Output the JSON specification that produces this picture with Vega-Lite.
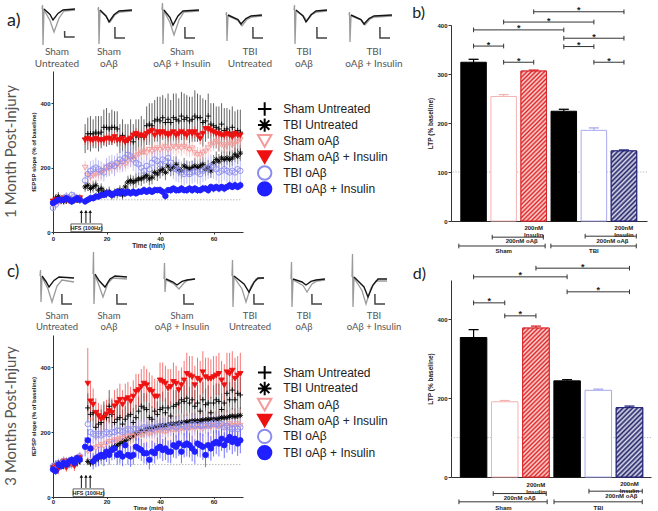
{
"$schema":"https://vega.github.io/schema/vega-lite/v6.json",
"background":"white",
"padding":{"left":3,"top":0,"right":0,"bottom":0},
"config":{"view":{"stroke":null},"axis":{"grid":false,"labelOverlap":false,"labelFlush":false}},
"datasets":{
"ta":[
{"g":"SU","t":0,"v":95,"e":8},{"g":"SU","t":1,"v":100,"e":10},{"g":"SU","t":2,"v":98,"e":9},{"g":"SU","t":3,"v":102,"e":8},{"g":"SU","t":4,"v":100,"e":10},{"g":"SU","t":5,"v":97,"e":9},{"g":"SU","t":6,"v":103,"e":8},{"g":"SU","t":7,"v":99,"e":10},{"g":"SU","t":8,"v":101,"e":9},{"g":"SU","t":9,"v":100,"e":8},{"g":"SU","t":10,"v":98,"e":10},
{"g":"SU","t":12,"v":290,"e":45},{"g":"SU","t":13,"v":305,"e":50},{"g":"SU","t":14,"v":305,"e":55},{"g":"SU","t":15,"v":305,"e":45},{"g":"SU","t":16,"v":310,"e":50},{"g":"SU","t":17,"v":305,"e":55},{"g":"SU","t":18,"v":310,"e":50},{"g":"SU","t":19,"v":325,"e":55},{"g":"SU","t":20,"v":325,"e":60},{"g":"SU","t":21,"v":320,"e":50},{"g":"SU","t":22,"v":325,"e":55},{"g":"SU","t":23,"v":325,"e":50},{"g":"SU","t":24,"v":320,"e":55},{"g":"SU","t":25,"v":290,"e":45},{"g":"SU","t":26,"v":300,"e":50},{"g":"SU","t":27,"v":280,"e":55},{"g":"SU","t":28,"v":285,"e":50},{"g":"SU","t":29,"v":290,"e":60},{"g":"SU","t":30,"v":280,"e":55},{"g":"SU","t":31,"v":300,"e":50},{"g":"SU","t":32,"v":295,"e":55},{"g":"SU","t":33,"v":300,"e":60},{"g":"SU","t":34,"v":295,"e":55},{"g":"SU","t":35,"v":330,"e":60},{"g":"SU","t":36,"v":335,"e":65},{"g":"SU","t":37,"v":330,"e":70},{"g":"SU","t":38,"v":345,"e":65},{"g":"SU","t":39,"v":350,"e":70},{"g":"SU","t":40,"v":345,"e":75},{"g":"SU","t":41,"v":355,"e":70},{"g":"SU","t":42,"v":340,"e":75},{"g":"SU","t":43,"v":350,"e":80},{"g":"SU","t":44,"v":340,"e":70},{"g":"SU","t":45,"v":355,"e":75},{"g":"SU","t":46,"v":350,"e":80},{"g":"SU","t":47,"v":345,"e":70},{"g":"SU","t":48,"v":360,"e":75},{"g":"SU","t":49,"v":350,"e":80},{"g":"SU","t":50,"v":355,"e":70},{"g":"SU","t":51,"v":345,"e":75},{"g":"SU","t":52,"v":350,"e":70},{"g":"SU","t":53,"v":360,"e":80},{"g":"SU","t":54,"v":355,"e":75},{"g":"SU","t":55,"v":355,"e":70},{"g":"SU","t":56,"v":340,"e":75},{"g":"SU","t":57,"v":345,"e":65},{"g":"SU","t":58,"v":360,"e":70},{"g":"SU","t":59,"v":335,"e":65},{"g":"SU","t":60,"v":330,"e":70},{"g":"SU","t":61,"v":325,"e":65},{"g":"SU","t":62,"v":320,"e":70},{"g":"SU","t":63,"v":335,"e":65},{"g":"SU","t":64,"v":315,"e":70},{"g":"SU","t":65,"v":320,"e":65},{"g":"SU","t":66,"v":310,"e":70},{"g":"SU","t":67,"v":325,"e":65},{"g":"SU","t":68,"v":305,"e":70},{"g":"SU","t":69,"v":315,"e":65},{"g":"SU","t":70,"v":310,"e":70},
{"g":"TU","t":0,"v":90,"e":12},{"g":"TU","t":1,"v":105,"e":12},{"g":"TU","t":2,"v":110,"e":14},{"g":"TU","t":3,"v":100,"e":12},{"g":"TU","t":4,"v":95,"e":10},{"g":"TU","t":5,"v":100,"e":12},{"g":"TU","t":6,"v":105,"e":12},{"g":"TU","t":7,"v":95,"e":10},{"g":"TU","t":8,"v":100,"e":12},{"g":"TU","t":9,"v":100,"e":10},{"g":"TU","t":10,"v":105,"e":12},
{"g":"TU","t":12,"v":140,"e":15},{"g":"TU","t":13,"v":145,"e":18},{"g":"TU","t":14,"v":135,"e":15},{"g":"TU","t":15,"v":140,"e":18},{"g":"TU","t":16,"v":145,"e":16},{"g":"TU","t":17,"v":130,"e":15},{"g":"TU","t":18,"v":135,"e":16},{"g":"TU","t":19,"v":125,"e":14},{"g":"TU","t":20,"v":120,"e":15},{"g":"TU","t":21,"v":125,"e":16},{"g":"TU","t":22,"v":115,"e":14},{"g":"TU","t":23,"v":120,"e":15},{"g":"TU","t":24,"v":120,"e":16},{"g":"TU","t":25,"v":130,"e":15},{"g":"TU","t":26,"v":115,"e":14},{"g":"TU","t":27,"v":140,"e":18},{"g":"TU","t":28,"v":155,"e":20},{"g":"TU","t":29,"v":160,"e":18},{"g":"TU","t":30,"v":155,"e":20},{"g":"TU","t":31,"v":160,"e":22},{"g":"TU","t":32,"v":165,"e":20},{"g":"TU","t":33,"v":165,"e":22},{"g":"TU","t":34,"v":170,"e":20},{"g":"TU","t":35,"v":175,"e":22},{"g":"TU","t":36,"v":165,"e":20},{"g":"TU","t":37,"v":170,"e":22},{"g":"TU","t":38,"v":185,"e":24},{"g":"TU","t":39,"v":180,"e":22},{"g":"TU","t":40,"v":190,"e":24},{"g":"TU","t":41,"v":195,"e":22},{"g":"TU","t":42,"v":185,"e":24},{"g":"TU","t":43,"v":205,"e":25},{"g":"TU","t":44,"v":195,"e":22},{"g":"TU","t":45,"v":200,"e":24},{"g":"TU","t":46,"v":210,"e":25},{"g":"TU","t":47,"v":195,"e":22},{"g":"TU","t":48,"v":190,"e":24},{"g":"TU","t":49,"v":205,"e":25},{"g":"TU","t":50,"v":200,"e":22},{"g":"TU","t":51,"v":195,"e":24},{"g":"TU","t":52,"v":200,"e":22},{"g":"TU","t":53,"v":205,"e":25},{"g":"TU","t":54,"v":200,"e":22},{"g":"TU","t":55,"v":205,"e":24},{"g":"TU","t":56,"v":210,"e":25},{"g":"TU","t":57,"v":195,"e":22},{"g":"TU","t":58,"v":200,"e":24},{"g":"TU","t":59,"v":190,"e":22},{"g":"TU","t":60,"v":215,"e":24},{"g":"TU","t":61,"v":225,"e":25},{"g":"TU","t":62,"v":220,"e":22},{"g":"TU","t":63,"v":230,"e":24},{"g":"TU","t":64,"v":225,"e":25},{"g":"TU","t":65,"v":230,"e":22},{"g":"TU","t":66,"v":225,"e":24},{"g":"TU","t":67,"v":230,"e":25},{"g":"TU","t":68,"v":240,"e":22},{"g":"TU","t":69,"v":235,"e":24},{"g":"TU","t":70,"v":245,"e":25},
{"g":"SA","t":0,"v":85,"e":10},{"g":"SA","t":1,"v":90,"e":12},{"g":"SA","t":2,"v":95,"e":10},{"g":"SA","t":3,"v":100,"e":12},{"g":"SA","t":4,"v":105,"e":10},{"g":"SA","t":5,"v":100,"e":12},{"g":"SA","t":6,"v":95,"e":10},{"g":"SA","t":7,"v":100,"e":12},{"g":"SA","t":8,"v":100,"e":10},{"g":"SA","t":9,"v":105,"e":12},{"g":"SA","t":10,"v":100,"e":10},
{"g":"SA","t":12,"v":200,"e":20},{"g":"SA","t":13,"v":175,"e":18},{"g":"SA","t":14,"v":170,"e":20},{"g":"SA","t":15,"v":175,"e":18},{"g":"SA","t":16,"v":180,"e":20},{"g":"SA","t":17,"v":180,"e":22},{"g":"SA","t":18,"v":185,"e":20},{"g":"SA","t":19,"v":190,"e":22},{"g":"SA","t":20,"v":200,"e":20},{"g":"SA","t":21,"v":195,"e":22},{"g":"SA","t":22,"v":205,"e":20},{"g":"SA","t":23,"v":200,"e":22},{"g":"SA","t":24,"v":210,"e":20},{"g":"SA","t":25,"v":205,"e":22},{"g":"SA","t":26,"v":215,"e":24},{"g":"SA","t":27,"v":210,"e":22},{"g":"SA","t":28,"v":220,"e":24},{"g":"SA","t":29,"v":225,"e":22},{"g":"SA","t":30,"v":230,"e":24},{"g":"SA","t":31,"v":235,"e":22},{"g":"SA","t":32,"v":240,"e":24},{"g":"SA","t":33,"v":245,"e":22},{"g":"SA","t":34,"v":250,"e":24},{"g":"SA","t":35,"v":245,"e":22},{"g":"SA","t":36,"v":255,"e":24},{"g":"SA","t":37,"v":250,"e":22},{"g":"SA","t":38,"v":255,"e":24},{"g":"SA","t":39,"v":260,"e":22},{"g":"SA","t":40,"v":255,"e":24},{"g":"SA","t":41,"v":260,"e":22},{"g":"SA","t":42,"v":265,"e":24},{"g":"SA","t":43,"v":255,"e":22},{"g":"SA","t":44,"v":260,"e":24},{"g":"SA","t":45,"v":265,"e":22},{"g":"SA","t":46,"v":260,"e":24},{"g":"SA","t":47,"v":265,"e":22},{"g":"SA","t":48,"v":260,"e":24},{"g":"SA","t":49,"v":265,"e":22},{"g":"SA","t":50,"v":260,"e":24},{"g":"SA","t":51,"v":255,"e":22},{"g":"SA","t":52,"v":260,"e":24},{"g":"SA","t":53,"v":245,"e":22},{"g":"SA","t":54,"v":240,"e":24},{"g":"SA","t":55,"v":240,"e":22},{"g":"SA","t":56,"v":245,"e":24},{"g":"SA","t":57,"v":250,"e":22},{"g":"SA","t":58,"v":260,"e":24},{"g":"SA","t":59,"v":270,"e":22},{"g":"SA","t":60,"v":275,"e":24},{"g":"SA","t":61,"v":280,"e":22},{"g":"SA","t":62,"v":275,"e":24},{"g":"SA","t":63,"v":270,"e":22},{"g":"SA","t":64,"v":265,"e":24},{"g":"SA","t":65,"v":270,"e":22},{"g":"SA","t":66,"v":275,"e":24},{"g":"SA","t":67,"v":270,"e":22},{"g":"SA","t":68,"v":275,"e":24},{"g":"SA","t":69,"v":280,"e":22},{"g":"SA","t":70,"v":285,"e":24},
{"g":"SI","t":0,"v":95,"e":8},{"g":"SI","t":1,"v":100,"e":10},{"g":"SI","t":2,"v":100,"e":8},{"g":"SI","t":3,"v":95,"e":10},{"g":"SI","t":4,"v":105,"e":8},{"g":"SI","t":5,"v":100,"e":10},{"g":"SI","t":6,"v":100,"e":8},{"g":"SI","t":7,"v":95,"e":10},{"g":"SI","t":8,"v":100,"e":8},{"g":"SI","t":9,"v":100,"e":10},{"g":"SI","t":10,"v":105,"e":8},
{"g":"SI","t":12,"v":285,"e":15},{"g":"SI","t":13,"v":290,"e":18},{"g":"SI","t":14,"v":285,"e":15},{"g":"SI","t":15,"v":285,"e":18},{"g":"SI","t":16,"v":290,"e":15},{"g":"SI","t":17,"v":285,"e":18},{"g":"SI","t":18,"v":285,"e":15},{"g":"SI","t":19,"v":285,"e":18},{"g":"SI","t":20,"v":290,"e":15},{"g":"SI","t":21,"v":290,"e":18},{"g":"SI","t":22,"v":285,"e":15},{"g":"SI","t":23,"v":295,"e":18},{"g":"SI","t":24,"v":285,"e":15},{"g":"SI","t":25,"v":285,"e":18},{"g":"SI","t":26,"v":290,"e":15},{"g":"SI","t":27,"v":280,"e":18},{"g":"SI","t":28,"v":285,"e":15},{"g":"SI","t":29,"v":290,"e":18},{"g":"SI","t":30,"v":300,"e":15},{"g":"SI","t":31,"v":305,"e":18},{"g":"SI","t":32,"v":300,"e":15},{"g":"SI","t":33,"v":300,"e":18},{"g":"SI","t":34,"v":295,"e":15},{"g":"SI","t":35,"v":305,"e":18},{"g":"SI","t":36,"v":310,"e":15},{"g":"SI","t":37,"v":315,"e":18},{"g":"SI","t":38,"v":300,"e":15},{"g":"SI","t":39,"v":310,"e":18},{"g":"SI","t":40,"v":305,"e":15},{"g":"SI","t":41,"v":310,"e":18},{"g":"SI","t":42,"v":305,"e":15},{"g":"SI","t":43,"v":300,"e":18},{"g":"SI","t":44,"v":305,"e":15},{"g":"SI","t":45,"v":310,"e":18},{"g":"SI","t":46,"v":300,"e":15},{"g":"SI","t":47,"v":305,"e":18},{"g":"SI","t":48,"v":310,"e":15},{"g":"SI","t":49,"v":305,"e":18},{"g":"SI","t":50,"v":300,"e":15},{"g":"SI","t":51,"v":310,"e":18},{"g":"SI","t":52,"v":305,"e":15},{"g":"SI","t":53,"v":310,"e":18},{"g":"SI","t":54,"v":300,"e":15},{"g":"SI","t":55,"v":290,"e":18},{"g":"SI","t":56,"v":305,"e":15},{"g":"SI","t":57,"v":320,"e":18},{"g":"SI","t":58,"v":320,"e":15},{"g":"SI","t":59,"v":315,"e":18},{"g":"SI","t":60,"v":310,"e":15},{"g":"SI","t":61,"v":305,"e":18},{"g":"SI","t":62,"v":305,"e":15},{"g":"SI","t":63,"v":300,"e":18},{"g":"SI","t":64,"v":300,"e":15},{"g":"SI","t":65,"v":305,"e":18},{"g":"SI","t":66,"v":300,"e":15},{"g":"SI","t":67,"v":295,"e":18},{"g":"SI","t":68,"v":305,"e":15},{"g":"SI","t":69,"v":300,"e":18},{"g":"SI","t":70,"v":300,"e":15},
{"g":"TA","t":0,"v":75,"e":12},{"g":"TA","t":1,"v":85,"e":12},{"g":"TA","t":2,"v":95,"e":14},{"g":"TA","t":3,"v":100,"e":12},{"g":"TA","t":4,"v":105,"e":12},{"g":"TA","t":5,"v":110,"e":14},{"g":"TA","t":6,"v":105,"e":12},{"g":"TA","t":7,"v":115,"e":12},{"g":"TA","t":8,"v":110,"e":14},{"g":"TA","t":9,"v":105,"e":12},{"g":"TA","t":10,"v":100,"e":12},
{"g":"TA","t":12,"v":160,"e":25},{"g":"TA","t":13,"v":180,"e":28},{"g":"TA","t":14,"v":190,"e":30},{"g":"TA","t":15,"v":195,"e":28},{"g":"TA","t":16,"v":200,"e":30},{"g":"TA","t":17,"v":195,"e":28},{"g":"TA","t":18,"v":190,"e":30},{"g":"TA","t":19,"v":185,"e":28},{"g":"TA","t":20,"v":200,"e":30},{"g":"TA","t":21,"v":205,"e":32},{"g":"TA","t":22,"v":210,"e":30},{"g":"TA","t":23,"v":205,"e":32},{"g":"TA","t":24,"v":215,"e":30},{"g":"TA","t":25,"v":225,"e":32},{"g":"TA","t":26,"v":220,"e":34},{"g":"TA","t":27,"v":230,"e":32},{"g":"TA","t":28,"v":240,"e":35},{"g":"TA","t":29,"v":235,"e":34},{"g":"TA","t":30,"v":225,"e":35},{"g":"TA","t":31,"v":215,"e":34},{"g":"TA","t":32,"v":210,"e":35},{"g":"TA","t":33,"v":200,"e":34},{"g":"TA","t":34,"v":190,"e":35},{"g":"TA","t":35,"v":205,"e":34},{"g":"TA","t":36,"v":195,"e":35},{"g":"TA","t":37,"v":215,"e":36},{"g":"TA","t":38,"v":225,"e":35},{"g":"TA","t":39,"v":220,"e":36},{"g":"TA","t":40,"v":210,"e":38},{"g":"TA","t":41,"v":225,"e":36},{"g":"TA","t":42,"v":220,"e":38},{"g":"TA","t":43,"v":230,"e":36},{"g":"TA","t":44,"v":215,"e":38},{"g":"TA","t":45,"v":200,"e":36},{"g":"TA","t":46,"v":195,"e":38},{"g":"TA","t":47,"v":190,"e":36},{"g":"TA","t":48,"v":185,"e":35},{"g":"TA","t":49,"v":180,"e":36},{"g":"TA","t":50,"v":185,"e":35},{"g":"TA","t":51,"v":180,"e":36},{"g":"TA","t":52,"v":185,"e":35},{"g":"TA","t":53,"v":190,"e":36},{"g":"TA","t":54,"v":185,"e":35},{"g":"TA","t":55,"v":180,"e":36},{"g":"TA","t":56,"v":190,"e":35},{"g":"TA","t":57,"v":195,"e":36},{"g":"TA","t":58,"v":200,"e":35},{"g":"TA","t":59,"v":205,"e":36},{"g":"TA","t":60,"v":200,"e":35},{"g":"TA","t":61,"v":195,"e":36},{"g":"TA","t":62,"v":185,"e":35},{"g":"TA","t":63,"v":190,"e":36},{"g":"TA","t":64,"v":195,"e":35},{"g":"TA","t":65,"v":190,"e":36},{"g":"TA","t":66,"v":185,"e":35},{"g":"TA","t":67,"v":190,"e":36},{"g":"TA","t":68,"v":185,"e":35},{"g":"TA","t":69,"v":195,"e":36},{"g":"TA","t":70,"v":190,"e":35},
{"g":"TI","t":0,"v":90,"e":8},{"g":"TI","t":1,"v":95,"e":10},{"g":"TI","t":2,"v":100,"e":8},{"g":"TI","t":3,"v":100,"e":10},{"g":"TI","t":4,"v":100,"e":8},{"g":"TI","t":5,"v":105,"e":10},{"g":"TI","t":6,"v":100,"e":8},{"g":"TI","t":7,"v":95,"e":10},{"g":"TI","t":8,"v":100,"e":8},{"g":"TI","t":9,"v":105,"e":10},{"g":"TI","t":10,"v":100,"e":8},
{"g":"TI","t":12,"v":95,"e":10},{"g":"TI","t":13,"v":100,"e":10},{"g":"TI","t":14,"v":105,"e":12},{"g":"TI","t":15,"v":105,"e":10},{"g":"TI","t":16,"v":110,"e":12},{"g":"TI","t":17,"v":110,"e":10},{"g":"TI","t":18,"v":115,"e":12},{"g":"TI","t":19,"v":115,"e":10},{"g":"TI","t":20,"v":120,"e":12},{"g":"TI","t":21,"v":120,"e":10},{"g":"TI","t":22,"v":115,"e":12},{"g":"TI","t":23,"v":120,"e":10},{"g":"TI","t":24,"v":125,"e":12},{"g":"TI","t":25,"v":120,"e":10},{"g":"TI","t":26,"v":125,"e":12},{"g":"TI","t":27,"v":120,"e":10},{"g":"TI","t":28,"v":125,"e":12},{"g":"TI","t":29,"v":120,"e":10},{"g":"TI","t":30,"v":125,"e":12},{"g":"TI","t":31,"v":120,"e":10},{"g":"TI","t":32,"v":125,"e":12},{"g":"TI","t":33,"v":125,"e":10},{"g":"TI","t":34,"v":130,"e":12},{"g":"TI","t":35,"v":125,"e":10},{"g":"TI","t":36,"v":130,"e":12},{"g":"TI","t":37,"v":125,"e":10},{"g":"TI","t":38,"v":130,"e":12},{"g":"TI","t":39,"v":130,"e":10},{"g":"TI","t":40,"v":130,"e":12},{"g":"TI","t":41,"v":125,"e":10},{"g":"TI","t":42,"v":112,"e":12},{"g":"TI","t":43,"v":130,"e":10},{"g":"TI","t":44,"v":130,"e":12},{"g":"TI","t":45,"v":135,"e":10},{"g":"TI","t":46,"v":130,"e":12},{"g":"TI","t":47,"v":130,"e":10},{"g":"TI","t":48,"v":135,"e":12},{"g":"TI","t":49,"v":130,"e":10},{"g":"TI","t":50,"v":130,"e":12},{"g":"TI","t":51,"v":135,"e":10},{"g":"TI","t":52,"v":130,"e":12},{"g":"TI","t":53,"v":135,"e":10},{"g":"TI","t":54,"v":130,"e":12},{"g":"TI","t":55,"v":130,"e":10},{"g":"TI","t":56,"v":135,"e":12},{"g":"TI","t":57,"v":135,"e":10},{"g":"TI","t":58,"v":130,"e":12},{"g":"TI","t":59,"v":140,"e":10},{"g":"TI","t":60,"v":135,"e":12},{"g":"TI","t":61,"v":140,"e":10},{"g":"TI","t":62,"v":135,"e":12},{"g":"TI","t":63,"v":140,"e":10},{"g":"TI","t":64,"v":135,"e":12},{"g":"TI","t":65,"v":140,"e":10},{"g":"TI","t":66,"v":145,"e":12},{"g":"TI","t":67,"v":140,"e":10},{"g":"TI","t":68,"v":145,"e":12},{"g":"TI","t":69,"v":140,"e":10},{"g":"TI","t":70,"v":145,"e":12}
],
"tc":[
{"g":"SU","t":0,"v":95,"e":10},{"g":"SU","t":1,"v":100,"e":12},{"g":"SU","t":2,"v":105,"e":10},{"g":"SU","t":3,"v":100,"e":12},{"g":"SU","t":4,"v":95,"e":10},{"g":"SU","t":5,"v":100,"e":12},{"g":"SU","t":6,"v":105,"e":10},{"g":"SU","t":7,"v":110,"e":12},{"g":"SU","t":8,"v":100,"e":10},{"g":"SU","t":9,"v":105,"e":12},{"g":"SU","t":10,"v":110,"e":10},
{"g":"SU","t":13,"v":275,"e":45},{"g":"SU","t":14,"v":255,"e":40},{"g":"SU","t":15,"v":260,"e":45},{"g":"SU","t":16,"v":215,"e":40},{"g":"SU","t":17,"v":225,"e":45},{"g":"SU","t":18,"v":230,"e":40},{"g":"SU","t":19,"v":250,"e":45},{"g":"SU","t":20,"v":245,"e":40},{"g":"SU","t":21,"v":280,"e":50},{"g":"SU","t":22,"v":255,"e":45},{"g":"SU","t":23,"v":230,"e":40},{"g":"SU","t":24,"v":240,"e":45},{"g":"SU","t":25,"v":245,"e":40},{"g":"SU","t":26,"v":225,"e":45},{"g":"SU","t":27,"v":240,"e":40},{"g":"SU","t":28,"v":250,"e":45},{"g":"SU","t":29,"v":255,"e":40},{"g":"SU","t":30,"v":230,"e":45},{"g":"SU","t":31,"v":245,"e":40},{"g":"SU","t":32,"v":265,"e":45},{"g":"SU","t":33,"v":280,"e":50},{"g":"SU","t":34,"v":275,"e":45},{"g":"SU","t":35,"v":270,"e":50},{"g":"SU","t":36,"v":245,"e":45},{"g":"SU","t":37,"v":240,"e":40},{"g":"SU","t":38,"v":265,"e":45},{"g":"SU","t":39,"v":255,"e":40},{"g":"SU","t":40,"v":270,"e":45},{"g":"SU","t":41,"v":275,"e":50},{"g":"SU","t":42,"v":260,"e":45},{"g":"SU","t":43,"v":275,"e":50},{"g":"SU","t":44,"v":250,"e":45},{"g":"SU","t":45,"v":280,"e":50},{"g":"SU","t":46,"v":285,"e":45},{"g":"SU","t":47,"v":290,"e":50},{"g":"SU","t":48,"v":300,"e":55},{"g":"SU","t":49,"v":295,"e":50},{"g":"SU","t":50,"v":305,"e":55},{"g":"SU","t":51,"v":290,"e":50},{"g":"SU","t":52,"v":300,"e":55},{"g":"SU","t":53,"v":280,"e":50},{"g":"SU","t":54,"v":290,"e":55},{"g":"SU","t":55,"v":265,"e":50},{"g":"SU","t":56,"v":300,"e":55},{"g":"SU","t":57,"v":285,"e":50},{"g":"SU","t":58,"v":290,"e":55},{"g":"SU","t":59,"v":260,"e":50},{"g":"SU","t":60,"v":290,"e":55},{"g":"SU","t":61,"v":300,"e":50},{"g":"SU","t":62,"v":295,"e":55},{"g":"SU","t":63,"v":270,"e":50},{"g":"SU","t":64,"v":290,"e":55},{"g":"SU","t":65,"v":320,"e":60},{"g":"SU","t":66,"v":300,"e":55},{"g":"SU","t":67,"v":330,"e":60},{"g":"SU","t":68,"v":300,"e":55},{"g":"SU","t":69,"v":320,"e":60},{"g":"SU","t":70,"v":315,"e":55},
{"g":"TU","t":0,"v":90,"e":10},{"g":"TU","t":1,"v":100,"e":12},{"g":"TU","t":2,"v":95,"e":10},{"g":"TU","t":3,"v":105,"e":12},{"g":"TU","t":4,"v":100,"e":10},{"g":"TU","t":5,"v":110,"e":12},{"g":"TU","t":6,"v":100,"e":10},{"g":"TU","t":7,"v":105,"e":12},{"g":"TU","t":8,"v":110,"e":10},{"g":"TU","t":9,"v":115,"e":12},{"g":"TU","t":10,"v":120,"e":10},
{"g":"TU","t":13,"v":110,"e":12},{"g":"TU","t":14,"v":105,"e":12},{"g":"TU","t":15,"v":110,"e":14},{"g":"TU","t":16,"v":115,"e":12},{"g":"TU","t":17,"v":120,"e":14},{"g":"TU","t":18,"v":125,"e":14},{"g":"TU","t":19,"v":130,"e":15},{"g":"TU","t":20,"v":135,"e":15},{"g":"TU","t":21,"v":140,"e":16},{"g":"TU","t":22,"v":150,"e":16},{"g":"TU","t":23,"v":155,"e":18},{"g":"TU","t":24,"v":160,"e":18},{"g":"TU","t":25,"v":165,"e":18},{"g":"TU","t":26,"v":170,"e":20},{"g":"TU","t":27,"v":175,"e":20},{"g":"TU","t":28,"v":180,"e":20},{"g":"TU","t":29,"v":185,"e":20},{"g":"TU","t":30,"v":190,"e":22},{"g":"TU","t":31,"v":195,"e":22},{"g":"TU","t":32,"v":200,"e":22},{"g":"TU","t":33,"v":205,"e":22},{"g":"TU","t":34,"v":205,"e":22},{"g":"TU","t":35,"v":210,"e":22},{"g":"TU","t":36,"v":210,"e":24},{"g":"TU","t":37,"v":212,"e":24},{"g":"TU","t":38,"v":215,"e":24},{"g":"TU","t":39,"v":215,"e":24},{"g":"TU","t":40,"v":218,"e":24},{"g":"TU","t":41,"v":220,"e":24},{"g":"TU","t":42,"v":220,"e":25},{"g":"TU","t":43,"v":222,"e":25},{"g":"TU","t":44,"v":225,"e":25},{"g":"TU","t":45,"v":225,"e":25},{"g":"TU","t":46,"v":225,"e":25},{"g":"TU","t":47,"v":228,"e":25},{"g":"TU","t":48,"v":230,"e":25},{"g":"TU","t":49,"v":230,"e":25},{"g":"TU","t":50,"v":232,"e":25},{"g":"TU","t":51,"v":232,"e":25},{"g":"TU","t":52,"v":235,"e":25},{"g":"TU","t":53,"v":235,"e":25},{"g":"TU","t":54,"v":235,"e":25},{"g":"TU","t":55,"v":235,"e":25},{"g":"TU","t":56,"v":238,"e":25},{"g":"TU","t":57,"v":238,"e":25},{"g":"TU","t":58,"v":240,"e":25},{"g":"TU","t":59,"v":240,"e":25},{"g":"TU","t":60,"v":240,"e":25},{"g":"TU","t":61,"v":240,"e":25},{"g":"TU","t":62,"v":242,"e":25},{"g":"TU","t":63,"v":245,"e":25},{"g":"TU","t":64,"v":245,"e":25},{"g":"TU","t":65,"v":245,"e":25},{"g":"TU","t":66,"v":248,"e":25},{"g":"TU","t":67,"v":250,"e":25},{"g":"TU","t":68,"v":248,"e":25},{"g":"TU","t":69,"v":250,"e":25},{"g":"TU","t":70,"v":252,"e":25},
{"g":"SA","t":0,"v":85,"e":12},{"g":"SA","t":1,"v":95,"e":12},{"g":"SA","t":2,"v":100,"e":14},{"g":"SA","t":3,"v":95,"e":12},{"g":"SA","t":4,"v":105,"e":14},{"g":"SA","t":5,"v":100,"e":12},{"g":"SA","t":6,"v":110,"e":14},{"g":"SA","t":7,"v":105,"e":12},{"g":"SA","t":8,"v":115,"e":14},{"g":"SA","t":9,"v":120,"e":12},{"g":"SA","t":10,"v":125,"e":14},
{"g":"SA","t":13,"v":140,"e":30},{"g":"SA","t":14,"v":145,"e":32},{"g":"SA","t":15,"v":150,"e":30},{"g":"SA","t":16,"v":150,"e":32},{"g":"SA","t":17,"v":155,"e":34},{"g":"SA","t":18,"v":160,"e":32},{"g":"SA","t":19,"v":155,"e":34},{"g":"SA","t":20,"v":165,"e":36},{"g":"SA","t":21,"v":170,"e":34},{"g":"SA","t":22,"v":170,"e":36},{"g":"SA","t":23,"v":175,"e":38},{"g":"SA","t":24,"v":175,"e":36},{"g":"SA","t":25,"v":180,"e":38},{"g":"SA","t":26,"v":180,"e":40},{"g":"SA","t":27,"v":185,"e":38},{"g":"SA","t":28,"v":185,"e":40},{"g":"SA","t":29,"v":190,"e":42},{"g":"SA","t":30,"v":185,"e":40},{"g":"SA","t":31,"v":190,"e":42},{"g":"SA","t":32,"v":195,"e":44},{"g":"SA","t":33,"v":190,"e":42},{"g":"SA","t":34,"v":195,"e":44},{"g":"SA","t":35,"v":200,"e":46},{"g":"SA","t":36,"v":195,"e":44},{"g":"SA","t":37,"v":200,"e":46},{"g":"SA","t":38,"v":200,"e":44},{"g":"SA","t":39,"v":205,"e":46},{"g":"SA","t":40,"v":200,"e":48},{"g":"SA","t":41,"v":205,"e":46},{"g":"SA","t":42,"v":200,"e":48},{"g":"SA","t":43,"v":205,"e":46},{"g":"SA","t":44,"v":210,"e":48},{"g":"SA","t":45,"v":205,"e":50},{"g":"SA","t":46,"v":210,"e":48},{"g":"SA","t":47,"v":205,"e":50},{"g":"SA","t":48,"v":210,"e":48},{"g":"SA","t":49,"v":210,"e":50},{"g":"SA","t":50,"v":215,"e":52},{"g":"SA","t":51,"v":210,"e":50},{"g":"SA","t":52,"v":215,"e":52},{"g":"SA","t":53,"v":210,"e":50},{"g":"SA","t":54,"v":215,"e":52},{"g":"SA","t":55,"v":215,"e":50},{"g":"SA","t":56,"v":210,"e":52},{"g":"SA","t":57,"v":215,"e":50},{"g":"SA","t":58,"v":220,"e":52},{"g":"SA","t":59,"v":215,"e":50},{"g":"SA","t":60,"v":220,"e":52},{"g":"SA","t":61,"v":215,"e":50},{"g":"SA","t":62,"v":220,"e":52},{"g":"SA","t":63,"v":220,"e":50},{"g":"SA","t":64,"v":215,"e":52},{"g":"SA","t":65,"v":220,"e":50},{"g":"SA","t":66,"v":225,"e":52},{"g":"SA","t":67,"v":220,"e":50},{"g":"SA","t":68,"v":220,"e":52},{"g":"SA","t":69,"v":225,"e":50},{"g":"SA","t":70,"v":220,"e":52},
{"g":"SI","t":0,"v":90,"e":15},{"g":"SI","t":1,"v":95,"e":12},{"g":"SI","t":2,"v":85,"e":15},{"g":"SI","t":3,"v":100,"e":12},{"g":"SI","t":4,"v":110,"e":15},{"g":"SI","t":5,"v":90,"e":12},{"g":"SI","t":6,"v":105,"e":15},{"g":"SI","t":7,"v":100,"e":12},{"g":"SI","t":8,"v":95,"e":15},{"g":"SI","t":9,"v":110,"e":12},{"g":"SI","t":10,"v":120,"e":15},
{"g":"SI","t":13,"v":350,"e":110},{"g":"SI","t":14,"v":295,"e":60},{"g":"SI","t":15,"v":285,"e":50},{"g":"SI","t":16,"v":260,"e":45},{"g":"SI","t":17,"v":250,"e":40},{"g":"SI","t":18,"v":240,"e":45},{"g":"SI","t":19,"v":245,"e":40},{"g":"SI","t":20,"v":255,"e":45},{"g":"SI","t":21,"v":265,"e":40},{"g":"SI","t":22,"v":260,"e":45},{"g":"SI","t":23,"v":280,"e":50},{"g":"SI","t":24,"v":290,"e":45},{"g":"SI","t":25,"v":300,"e":50},{"g":"SI","t":26,"v":285,"e":45},{"g":"SI","t":27,"v":300,"e":50},{"g":"SI","t":28,"v":305,"e":50},{"g":"SI","t":29,"v":295,"e":45},{"g":"SI","t":30,"v":310,"e":50},{"g":"SI","t":31,"v":325,"e":55},{"g":"SI","t":32,"v":330,"e":50},{"g":"SI","t":33,"v":340,"e":55},{"g":"SI","t":34,"v":350,"e":55},{"g":"SI","t":35,"v":345,"e":50},{"g":"SI","t":36,"v":330,"e":55},{"g":"SI","t":37,"v":325,"e":50},{"g":"SI","t":38,"v":310,"e":55},{"g":"SI","t":39,"v":310,"e":50},{"g":"SI","t":40,"v":360,"e":55},{"g":"SI","t":41,"v":355,"e":60},{"g":"SI","t":42,"v":350,"e":55},{"g":"SI","t":43,"v":335,"e":60},{"g":"SI","t":44,"v":340,"e":55},{"g":"SI","t":45,"v":355,"e":60},{"g":"SI","t":46,"v":350,"e":55},{"g":"SI","t":47,"v":330,"e":60},{"g":"SI","t":48,"v":345,"e":55},{"g":"SI","t":49,"v":360,"e":60},{"g":"SI","t":50,"v":380,"e":65},{"g":"SI","t":51,"v":375,"e":60},{"g":"SI","t":52,"v":370,"e":65},{"g":"SI","t":53,"v":345,"e":60},{"g":"SI","t":54,"v":365,"e":65},{"g":"SI","t":55,"v":360,"e":60},{"g":"SI","t":56,"v":385,"e":65},{"g":"SI","t":57,"v":370,"e":60},{"g":"SI","t":58,"v":365,"e":65},{"g":"SI","t":59,"v":365,"e":60},{"g":"SI","t":60,"v":370,"e":65},{"g":"SI","t":61,"v":375,"e":60},{"g":"SI","t":62,"v":380,"e":65},{"g":"SI","t":63,"v":360,"e":60},{"g":"SI","t":64,"v":345,"e":65},{"g":"SI","t":65,"v":385,"e":60},{"g":"SI","t":66,"v":380,"e":65},{"g":"SI","t":67,"v":390,"e":60},{"g":"SI","t":68,"v":365,"e":65},{"g":"SI","t":69,"v":375,"e":60},{"g":"SI","t":70,"v":380,"e":65},
{"g":"TA","t":0,"v":95,"e":12},{"g":"TA","t":1,"v":100,"e":12},{"g":"TA","t":2,"v":105,"e":14},{"g":"TA","t":3,"v":100,"e":12},{"g":"TA","t":4,"v":110,"e":14},{"g":"TA","t":5,"v":105,"e":12},{"g":"TA","t":6,"v":100,"e":14},{"g":"TA","t":7,"v":110,"e":12},{"g":"TA","t":8,"v":115,"e":14},{"g":"TA","t":9,"v":120,"e":12},{"g":"TA","t":10,"v":125,"e":14},
{"g":"TA","t":13,"v":225,"e":35},{"g":"TA","t":14,"v":200,"e":32},{"g":"TA","t":15,"v":195,"e":30},{"g":"TA","t":16,"v":190,"e":32},{"g":"TA","t":17,"v":195,"e":30},{"g":"TA","t":18,"v":190,"e":32},{"g":"TA","t":19,"v":195,"e":30},{"g":"TA","t":20,"v":200,"e":32},{"g":"TA","t":21,"v":195,"e":30},{"g":"TA","t":22,"v":200,"e":32},{"g":"TA","t":23,"v":200,"e":30},{"g":"TA","t":24,"v":205,"e":32},{"g":"TA","t":25,"v":205,"e":30},{"g":"TA","t":26,"v":200,"e":32},{"g":"TA","t":27,"v":205,"e":30},{"g":"TA","t":28,"v":210,"e":32},{"g":"TA","t":29,"v":205,"e":30},{"g":"TA","t":30,"v":210,"e":32},{"g":"TA","t":31,"v":210,"e":30},{"g":"TA","t":32,"v":205,"e":32},{"g":"TA","t":33,"v":210,"e":30},{"g":"TA","t":34,"v":215,"e":32},{"g":"TA","t":35,"v":210,"e":30},{"g":"TA","t":36,"v":215,"e":32},{"g":"TA","t":37,"v":210,"e":30},{"g":"TA","t":38,"v":215,"e":32},{"g":"TA","t":39,"v":215,"e":30},{"g":"TA","t":40,"v":220,"e":32},{"g":"TA","t":41,"v":215,"e":30},{"g":"TA","t":42,"v":220,"e":32},{"g":"TA","t":43,"v":215,"e":30},{"g":"TA","t":44,"v":220,"e":32},{"g":"TA","t":45,"v":220,"e":30},{"g":"TA","t":46,"v":215,"e":32},{"g":"TA","t":47,"v":220,"e":30},{"g":"TA","t":48,"v":225,"e":32},{"g":"TA","t":49,"v":220,"e":30},{"g":"TA","t":50,"v":215,"e":32},{"g":"TA","t":51,"v":220,"e":30},{"g":"TA","t":52,"v":225,"e":32},{"g":"TA","t":53,"v":220,"e":30},{"g":"TA","t":54,"v":225,"e":32},{"g":"TA","t":55,"v":220,"e":30},{"g":"TA","t":56,"v":220,"e":32},{"g":"TA","t":57,"v":225,"e":30},{"g":"TA","t":58,"v":220,"e":32},{"g":"TA","t":59,"v":225,"e":30},{"g":"TA","t":60,"v":230,"e":32},{"g":"TA","t":61,"v":225,"e":30},{"g":"TA","t":62,"v":220,"e":32},{"g":"TA","t":63,"v":225,"e":30},{"g":"TA","t":64,"v":215,"e":32},{"g":"TA","t":65,"v":220,"e":30},{"g":"TA","t":66,"v":215,"e":32},{"g":"TA","t":67,"v":210,"e":30},{"g":"TA","t":68,"v":215,"e":32},{"g":"TA","t":69,"v":210,"e":30},{"g":"TA","t":70,"v":215,"e":32},
{"g":"TI","t":0,"v":85,"e":12},{"g":"TI","t":1,"v":80,"e":12},{"g":"TI","t":2,"v":100,"e":14},{"g":"TI","t":3,"v":95,"e":12},{"g":"TI","t":4,"v":105,"e":14},{"g":"TI","t":5,"v":100,"e":12},{"g":"TI","t":6,"v":110,"e":14},{"g":"TI","t":7,"v":115,"e":12},{"g":"TI","t":8,"v":105,"e":14},{"g":"TI","t":9,"v":120,"e":12},{"g":"TI","t":10,"v":115,"e":14},
{"g":"TI","t":12,"v":155,"e":30},{"g":"TI","t":13,"v":175,"e":35},{"g":"TI","t":14,"v":150,"e":30},{"g":"TI","t":15,"v":110,"e":25},{"g":"TI","t":16,"v":120,"e":28},{"g":"TI","t":17,"v":125,"e":30},{"g":"TI","t":18,"v":130,"e":28},{"g":"TI","t":19,"v":125,"e":30},{"g":"TI","t":20,"v":140,"e":32},{"g":"TI","t":21,"v":130,"e":30},{"g":"TI","t":22,"v":145,"e":32},{"g":"TI","t":23,"v":150,"e":34},{"g":"TI","t":24,"v":130,"e":30},{"g":"TI","t":25,"v":135,"e":32},{"g":"TI","t":26,"v":125,"e":30},{"g":"TI","t":27,"v":160,"e":34},{"g":"TI","t":28,"v":130,"e":30},{"g":"TI","t":29,"v":125,"e":32},{"g":"TI","t":30,"v":130,"e":30},{"g":"TI","t":31,"v":155,"e":34},{"g":"TI","t":32,"v":150,"e":32},{"g":"TI","t":33,"v":145,"e":34},{"g":"TI","t":34,"v":135,"e":32},{"g":"TI","t":35,"v":135,"e":34},{"g":"TI","t":36,"v":115,"e":30},{"g":"TI","t":37,"v":140,"e":34},{"g":"TI","t":38,"v":135,"e":32},{"g":"TI","t":39,"v":150,"e":34},{"g":"TI","t":40,"v":155,"e":36},{"g":"TI","t":41,"v":145,"e":34},{"g":"TI","t":42,"v":150,"e":36},{"g":"TI","t":43,"v":140,"e":34},{"g":"TI","t":44,"v":140,"e":36},{"g":"TI","t":45,"v":160,"e":38},{"g":"TI","t":46,"v":155,"e":36},{"g":"TI","t":47,"v":165,"e":38},{"g":"TI","t":48,"v":140,"e":36},{"g":"TI","t":49,"v":160,"e":38},{"g":"TI","t":50,"v":165,"e":40},{"g":"TI","t":51,"v":160,"e":38},{"g":"TI","t":52,"v":150,"e":40},{"g":"TI","t":53,"v":140,"e":38},{"g":"TI","t":54,"v":165,"e":40},{"g":"TI","t":55,"v":160,"e":38},{"g":"TI","t":56,"v":155,"e":40},{"g":"TI","t":57,"v":130,"e":38},{"g":"TI","t":58,"v":160,"e":40},{"g":"TI","t":59,"v":150,"e":38},{"g":"TI","t":60,"v":165,"e":40},{"g":"TI","t":61,"v":170,"e":38},{"g":"TI","t":62,"v":165,"e":40},{"g":"TI","t":63,"v":180,"e":38},{"g":"TI","t":64,"v":160,"e":40},{"g":"TI","t":65,"v":175,"e":38},{"g":"TI","t":66,"v":185,"e":40},{"g":"TI","t":67,"v":170,"e":38},{"g":"TI","t":68,"v":180,"e":40},{"g":"TI","t":69,"v":165,"e":38},{"g":"TI","t":70,"v":175,"e":40}
],
"tra":[
{"c":1,"k":"g","t":40,"u":7},{"c":1,"k":"g","t":40.5,"u":3},{"c":1,"k":"g","t":41,"u":43},{"c":1,"k":"g","t":42,"u":8},{"c":1,"k":"g","t":48,"u":18.5},{"c":1,"k":"g","t":52,"u":30},{"c":1,"k":"g","t":57,"u":16.2},{"c":1,"k":"g","t":62,"u":9},{"c":1,"k":"g","t":73,"u":8},
{"c":1,"k":"b","t":42,"u":7},{"c":1,"k":"b","t":48,"u":12.5},{"c":1,"k":"b","t":51,"u":18},{"c":1,"k":"b","t":56,"u":11.4},{"c":1,"k":"b","t":61,"u":8},{"c":1,"k":"b","t":73,"u":7},
{"c":1,"k":"s","t":62.6,"u":29},{"c":1,"k":"s","t":62.7,"u":35},{"c":1,"k":"s","t":72.7,"u":35},
{"c":2,"k":"g","t":96,"u":8},{"c":2,"k":"g","t":96.5,"u":5},{"c":2,"k":"g","t":97,"u":42},{"c":2,"k":"g","t":98,"u":9},{"c":2,"k":"g","t":104,"u":14},{"c":2,"k":"g","t":108,"u":20},{"c":2,"k":"g","t":113,"u":12.8},{"c":2,"k":"g","t":118,"u":10},{"c":2,"k":"g","t":130,"u":9},
{"c":2,"k":"b","t":98,"u":8},{"c":2,"k":"b","t":104,"u":14},{"c":2,"k":"b","t":107,"u":20},{"c":2,"k":"b","t":112,"u":12.8},{"c":2,"k":"b","t":117,"u":9},{"c":2,"k":"b","t":130,"u":8},
{"c":2,"k":"s","t":112.9,"u":25},{"c":2,"k":"s","t":113,"u":36},{"c":2,"k":"s","t":123,"u":36},
{"c":3,"k":"g","t":160,"u":8},{"c":3,"k":"g","t":160.5,"u":1},{"c":3,"k":"g","t":161,"u":42},{"c":3,"k":"g","t":162,"u":9},{"c":3,"k":"g","t":168,"u":20.5},{"c":3,"k":"g","t":172,"u":33},{"c":3,"k":"g","t":177,"u":18},{"c":3,"k":"g","t":182,"u":10},{"c":3,"k":"g","t":197,"u":9},
{"c":3,"k":"b","t":162,"u":8},{"c":3,"k":"b","t":168,"u":15.5},{"c":3,"k":"b","t":171,"u":23},{"c":3,"k":"b","t":176,"u":14},{"c":3,"k":"b","t":181,"u":9},{"c":3,"k":"b","t":197,"u":8},
{"c":3,"k":"s","t":182.9,"u":25},{"c":3,"k":"s","t":183,"u":36},{"c":3,"k":"s","t":193,"u":36},
{"c":4,"k":"g","t":224,"u":13},{"c":4,"k":"g","t":224.5,"u":10},{"c":4,"k":"g","t":225,"u":39},{"c":4,"k":"g","t":226,"u":14},{"c":4,"k":"g","t":236,"u":18.5},{"c":4,"k":"g","t":240,"u":24},{"c":4,"k":"g","t":245,"u":17.4},{"c":4,"k":"g","t":250,"u":15},{"c":4,"k":"g","t":260,"u":14},
{"c":4,"k":"b","t":226,"u":13},{"c":4,"k":"b","t":236,"u":17.5},{"c":4,"k":"b","t":239,"u":22},{"c":4,"k":"b","t":244,"u":16.6},{"c":4,"k":"b","t":249,"u":14},{"c":4,"k":"b","t":260,"u":13},
{"c":4,"k":"s","t":250.9,"u":25},{"c":4,"k":"s","t":251,"u":36},{"c":4,"k":"s","t":261,"u":36},
{"c":5,"k":"g","t":292,"u":8},{"c":5,"k":"g","t":292.5,"u":3},{"c":5,"k":"g","t":293,"u":42},{"c":5,"k":"g","t":294,"u":9},{"c":5,"k":"g","t":301,"u":13.5},{"c":5,"k":"g","t":305,"u":19},{"c":5,"k":"g","t":310,"u":12.4},{"c":5,"k":"g","t":315,"u":10},{"c":5,"k":"g","t":325,"u":9},
{"c":5,"k":"b","t":294,"u":8},{"c":5,"k":"b","t":301,"u":14},{"c":5,"k":"b","t":304,"u":20},{"c":5,"k":"b","t":309,"u":12.8},{"c":5,"k":"b","t":314,"u":9},{"c":5,"k":"b","t":325,"u":8},
{"c":5,"k":"s","t":314.9,"u":25},{"c":5,"k":"s","t":315,"u":36},{"c":5,"k":"s","t":325,"u":36},
{"c":6,"k":"g","t":347,"u":13},{"c":6,"k":"g","t":347.5,"u":10},{"c":6,"k":"g","t":348,"u":40},{"c":6,"k":"g","t":349,"u":14},{"c":6,"k":"g","t":359,"u":18},{"c":6,"k":"g","t":363,"u":23},{"c":6,"k":"g","t":368,"u":17},{"c":6,"k":"g","t":373,"u":15},{"c":6,"k":"g","t":390,"u":14},
{"c":6,"k":"b","t":349,"u":13},{"c":6,"k":"b","t":359,"u":17.5},{"c":6,"k":"b","t":362,"u":22},{"c":6,"k":"b","t":367,"u":16.6},{"c":6,"k":"b","t":372,"u":14},{"c":6,"k":"b","t":390,"u":13},
{"c":6,"k":"s","t":377.9,"u":25},{"c":6,"k":"s","t":378,"u":36},{"c":6,"k":"s","t":388,"u":36}
],
"trc":[
{"c":1,"k":"g","t":38,"u":274},{"c":1,"k":"g","t":38.5,"u":268},{"c":1,"k":"g","t":39,"u":300},{"c":1,"k":"g","t":40,"u":275},{"c":1,"k":"g","t":46,"u":287},{"c":1,"k":"g","t":50,"u":300},{"c":1,"k":"g","t":55,"u":284},{"c":1,"k":"g","t":60,"u":278},{"c":1,"k":"g","t":72,"u":280},
{"c":1,"k":"b","t":40,"u":274},{"c":1,"k":"b","t":44,"u":279.5},{"c":1,"k":"b","t":47,"u":285},{"c":1,"k":"b","t":52,"u":278.4},{"c":1,"k":"b","t":57,"u":275},{"c":1,"k":"b","t":72,"u":276},
{"c":1,"k":"s","t":59.9,"u":292},{"c":1,"k":"s","t":60,"u":302},{"c":1,"k":"s","t":70,"u":302},
{"c":2,"k":"g","t":91,"u":272},{"c":2,"k":"g","t":91.5,"u":250},{"c":2,"k":"g","t":92,"u":302},{"c":2,"k":"g","t":93,"u":273},{"c":2,"k":"g","t":97,"u":283.5},{"c":2,"k":"g","t":101,"u":295},{"c":2,"k":"g","t":106,"u":281},{"c":2,"k":"g","t":111,"u":276},{"c":2,"k":"g","t":125,"u":277},
{"c":2,"k":"b","t":93,"u":272},{"c":2,"k":"b","t":97,"u":278.5},{"c":2,"k":"b","t":103,"u":285},{"c":2,"k":"b","t":108,"u":277},{"c":2,"k":"b","t":113,"u":274},{"c":2,"k":"b","t":125,"u":275},
{"c":2,"k":"s","t":114.9,"u":292},{"c":2,"k":"s","t":115,"u":302},{"c":2,"k":"s","t":125,"u":302},
{"c":3,"k":"g","t":162,"u":277},{"c":3,"k":"g","t":162.5,"u":261},{"c":3,"k":"g","t":163,"u":290},{"c":3,"k":"g","t":164,"u":278},{"c":3,"k":"g","t":172,"u":282},{"c":3,"k":"g","t":177,"u":287},{"c":3,"k":"g","t":182,"u":281},{"c":3,"k":"g","t":186,"u":278},{"c":3,"k":"g","t":193,"u":277},
{"c":3,"k":"b","t":164,"u":277},{"c":3,"k":"b","t":171,"u":280},{"c":3,"k":"b","t":175,"u":283},{"c":3,"k":"b","t":180,"u":279.4},{"c":3,"k":"b","t":185,"u":278},{"c":3,"k":"b","t":193,"u":277},
{"c":3,"k":"s","t":181.9,"u":292},{"c":3,"k":"s","t":182,"u":302},{"c":3,"k":"s","t":192,"u":302},
{"c":4,"k":"g","t":230,"u":274},{"c":4,"k":"g","t":230.5,"u":258},{"c":4,"k":"g","t":231,"u":305},{"c":4,"k":"g","t":232,"u":275},{"c":4,"k":"g","t":240,"u":287},{"c":4,"k":"g","t":244,"u":300},{"c":4,"k":"g","t":249,"u":284.4},{"c":4,"k":"g","t":254,"u":277},{"c":4,"k":"g","t":262,"u":276},
{"c":4,"k":"b","t":232,"u":274},{"c":4,"k":"b","t":242,"u":282},{"c":4,"k":"b","t":247,"u":290},{"c":4,"k":"b","t":252,"u":280.4},{"c":4,"k":"b","t":256,"u":276},{"c":4,"k":"b","t":262,"u":276},
{"c":4,"k":"s","t":251.9,"u":292},{"c":4,"k":"s","t":252,"u":302},{"c":4,"k":"s","t":262,"u":302},
{"c":5,"k":"g","t":289,"u":277},{"c":5,"k":"g","t":289.5,"u":260},{"c":5,"k":"g","t":290,"u":305},{"c":5,"k":"g","t":291,"u":278},{"c":5,"k":"g","t":301,"u":283.5},{"c":5,"k":"g","t":305,"u":290},{"c":5,"k":"g","t":310,"u":282},{"c":5,"k":"g","t":315,"u":279},{"c":5,"k":"g","t":323,"u":278},
{"c":5,"k":"b","t":291,"u":277},{"c":5,"k":"b","t":300,"u":280},{"c":5,"k":"b","t":304,"u":283},{"c":5,"k":"b","t":309,"u":279.4},{"c":5,"k":"b","t":314,"u":278},{"c":5,"k":"b","t":323,"u":277},
{"c":5,"k":"s","t":309.9,"u":292},{"c":5,"k":"s","t":310,"u":302},{"c":5,"k":"s","t":320,"u":302},
{"c":6,"k":"g","t":350,"u":275},{"c":6,"k":"g","t":350.5,"u":252},{"c":6,"k":"g","t":351,"u":305},{"c":6,"k":"g","t":352,"u":276},{"c":6,"k":"g","t":360,"u":288.5},{"c":6,"k":"g","t":364,"u":302},{"c":6,"k":"g","t":369,"u":285.8},{"c":6,"k":"g","t":374,"u":279},{"c":6,"k":"g","t":385,"u":279},
{"c":6,"k":"b","t":352,"u":275},{"c":6,"k":"b","t":362,"u":285},{"c":6,"k":"b","t":366,"u":295},{"c":6,"k":"b","t":371,"u":283},{"c":6,"k":"b","t":376,"u":277},{"c":6,"k":"b","t":385,"u":277},
{"c":6,"k":"s","t":372.9,"u":292},{"c":6,"k":"s","t":373,"u":302},{"c":6,"k":"s","t":383,"u":302}
],
"laba":[{"t":55,"u":45,"s":"Sham\nUntreated"},{"t":107,"u":45,"s":"Sham\noAβ"},{"t":180,"u":45,"s":"Sham\noAβ + Insulin"},{"t":248,"u":45,"s":"TBI\nUntreated"},{"t":302,"u":45,"s":"TBI\noAβ"},{"t":372,"u":45,"s":"TBI\noAβ + Insulin"}],
"labc":[{"t":55,"u":309,"s":"Sham\nUntreated"},{"t":107,"u":309,"s":"Sham\noAβ"},{"t":180,"u":309,"s":"Sham\noAβ + Insulin"},{"t":248,"u":309,"s":"TBI\nUntreated"},{"t":302,"u":309,"s":"TBI\noAβ"},{"t":372,"u":309,"s":"TBI\noAβ + Insulin"}],
"lga":[{"g":"SU","ly":382,"s":"Sham Untreated"},{"g":"TU","ly":332,"s":"TBI Untreated"},{"g":"SA","ly":283,"s":"Sham oAβ"},{"g":"SI","ly":233,"s":"Sham oAβ + Insulin"},{"g":"TA","ly":183,"s":"TBI oAβ"},{"g":"TI","ly":134,"s":"TBI oAβ + Insulin"}],
"lgc":[{"g":"SU","ly":384,"s":"Sham Untreated"},{"g":"TU","ly":335,"s":"TBI Untreated"},{"g":"SA","ly":285,"s":"Sham oAβ"},{"g":"SI","ly":236,"s":"Sham oAβ + Insulin"},{"g":"TA","ly":187,"s":"TBI oAβ"},{"g":"TI","ly":137,"s":"TBI oAβ + Insulin"}],
"bb":[{"g":"SU","i":1,"v":324,"hi":330},{"g":"SA","i":2,"v":254,"hi":258},{"g":"SI","i":3,"v":306,"hi":308},{"g":"TU","i":4,"v":224,"hi":228},{"g":"TA","i":5,"v":185,"hi":190},{"g":"TI","i":6,"v":143,"hi":145}],
"bd":[{"g":"SU","i":1,"v":354,"hi":374},{"g":"SA","i":2,"v":191,"hi":194},{"g":"SI","i":3,"v":378,"hi":383},{"g":"TU","i":4,"v":244,"hi":247},{"g":"TA","i":5,"v":220,"hi":223},{"g":"TI","i":6,"v":176,"hi":180}],
"sb":[{"a":3,"b":6,"m":4.5,"y":427},{"a":2,"b":5,"m":3.5,"y":406},{"a":1,"b":4,"m":2.5,"y":390},{"a":4,"b":6,"m":5,"y":373},{"a":4,"b":5,"m":4.5,"y":356},{"a":1,"b":2,"m":1.5,"y":357},{"a":2,"b":3,"m":2.5,"y":324},{"a":5,"b":6,"m":5.5,"y":324}],
"sd":[{"a":3,"b":6,"m":4.5,"y":530},{"a":1,"b":4,"m":2.5,"y":508},{"a":4,"b":6,"m":5,"y":470},{"a":1,"b":2,"m":1.5,"y":442},{"a":2,"b":3,"m":2.5,"y":409}],
"ub":[{"a":1.62,"b":3.32,"y":-33,"m":2.6,"ly":-41,"s":"200nM oAβ"},{"a":4.71,"b":6.41,"y":-31,"m":5.62,"ly":-40,"s":"200nM oAβ"},{"a":0.51,"b":3.38,"y":-51,"m":2,"ly":-62,"s":"Sham"},{"a":3.57,"b":6.41,"y":-51,"m":5,"ly":-62,"s":"TBI"}],
"ud":[{"a":1.63,"b":3.33,"y":-42,"m":2.48,"ly":-53,"s":"200nM oAβ"},{"a":4.7,"b":6.41,"y":-36,"m":5.74,"ly":-49,"s":"200nM oAβ"},{"a":0.53,"b":3.36,"y":-63,"m":1.96,"ly":-79,"s":"Sham"},{"a":3.58,"b":6.41,"y":-63,"m":5,"ly":-79,"s":"TBI"}],
"ib":[{"i":3,"y":-15,"s":"200nM\nInsulin"},{"i":6,"y":-15,"s":"200nM\nInsulin"}],
"id":[{"i":3,"y":-21,"s":"200nM\nInsulin"},{"i":6,"y":-19,"s":"200nM\nInsulin"}],
"hfs":[{"t":10.6},{"t":12.3},{"t":13.9}]
},
"spacing":9,
"bounds":"full",
"resolve":{"scale":{"color":"independent","fill":"independent","stroke":"independent","shape":"independent","strokeWidth":"independent"},"legend":{"color":"independent","fill":"independent","stroke":"independent","shape":"independent","strokeWidth":"independent"}},
"hconcat":[
{"vconcat":[
 {"width":349,"height":64,
  "layer":[
   {"data":{"name":"tra"},"mark":{"type":"line"},"encoding":{"x":{"field":"t","type":"quantitative","scale":{"domain":[51,400],"nice":false,"zero":false},"axis":null},"y":{"field":"u","type":"quantitative","scale":{"domain":[0,64],"reverse":true,"nice":false,"zero":false},"axis":null},"detail":{"field":"c","type":"nominal"},"color":{"field":"k","type":"nominal","scale":{"domain":["g","b","s"],"range":["#9b9b9b","#151515","#444444"]},"legend":null},"strokeWidth":{"field":"k","type":"nominal","scale":{"domain":["g","b","s"],"range":[1.3,1.5,0.9]},"legend":null}}},
   {"data":{"name":"laba"},"mark":{"type":"text","lineBreak":"\n","align":"center","baseline":"top","fontSize":10,"lineHeight":11.5,"font":"Lato","color":"#555555"},"encoding":{"x":{"field":"t","type":"quantitative"},"y":{"field":"u","type":"quantitative"},"text":{"field":"s"}}},
   {"data":{"values":[{}]},"mark":{"type":"text","fontSize":18,"font":"Lato","align":"left","baseline":"middle","color":"#222222"},"encoding":{"x":{"datum":5},"y":{"datum":19},"text":{"value":"a)"}}}
  ]},
 {"width":190,"height":161,
  "title":{"text":"1 Month Post-Injury","orient":"left","anchor":"middle","fontSize":15,"font":"Lato","fontWeight":"normal","color":"#555555","offset":12},
  "layer":[
   {"data":{"values":[{}]},"mark":{"type":"rule","strokeDash":[1.5,1.5],"color":"#999999","strokeWidth":0.7},"encoding":{"x":{"datum":0},"x2":{"datum":70},"y":{"datum":100}}},
   {"data":{"name":"ta"},"mark":{"type":"errorbar","ticks":false,"thickness":0.7},"encoding":{"x":{"field":"t","type":"quantitative","title":"Time (min)"},"y":{"field":"v","type":"quantitative","title":"fEPSP slope (% of baseline)"},"yError":{"field":"e"},"color":{"field":"g","type":"nominal","scale":{"domain":["SU","TU","SA","SI","TA","TI"],"range":["#222222","#333333","#f3b0b0","#f03a3a","#a0a0f0","#3a3aff"]},"legend":null}}},
   {"data":{"name":"ta"},"mark":{"type":"point","size":30,"strokeWidth":0.9,"opacity":1},
    "encoding":{
     "x":{"field":"t","type":"quantitative","title":"Time (min)","scale":{"domain":[0,71],"nice":false,"zero":false},"axis":{"values":[0,20,40,60],"labelOverlap":false,"tickSize":2,"labelFontSize":6,"labelFontWeight":"bold","labelFont":"Liberation Sans","labelPadding":1,"titleFont":"Liberation Sans","titleFontSize":6.5,"titleFontWeight":"bold","titlePadding":1,"domainColor":"#333333","tickColor":"#333333","labelColor":"#222222","titleColor":"#222222"}},
     "y":{"field":"v","type":"quantitative","title":"fEPSP slope (% of baseline)","scale":{"domain":[0,500],"nice":false},"axis":{"values":[0,100,200,300,400,500],"labelOverlap":false,"tickSize":2,"labelFontSize":6,"labelFontWeight":"bold","labelFont":"Liberation Sans","labelPadding":1,"titleFont":"Liberation Sans","titleFontSize":6,"titleFontWeight":"bold","titlePadding":3,"domainColor":"#333333","tickColor":"#333333","labelColor":"#222222","titleColor":"#222222"}},
     "shape":{"field":"g","type":"nominal","scale":{"domain":["SU","TU","SA","SI","TA","TI"],"range":["M-1,0H1M0,-1V1","M-1,0H1M0,-1V1M-0.7,-0.7L0.7,0.7M-0.7,0.7L0.7,-0.7","triangle-down","triangle-down","circle","circle"]},"legend":null},
     "fill":{"field":"g","type":"nominal","scale":{"domain":["SU","TU","SA","SI","TA","TI"],"range":["transparent","transparent","transparent","#ee1111","transparent","#1f1fff"]},"legend":null},
     "stroke":{"field":"g","type":"nominal","scale":{"domain":["SU","TU","SA","SI","TA","TI"],"range":["#000000","#000000","#f49a9a","#ee1111","#8c8cee","#1f1fff"]},"legend":null}
    }},
   {"data":{"name":"lga"},"mark":{"type":"point","size":180,"strokeWidth":2,"opacity":1},"encoding":{"x":{"datum":79.1},"y":{"field":"ly","type":"quantitative","title":"fEPSP slope (% of baseline)"},"shape":{"field":"g","type":"nominal","legend":null},"fill":{"field":"g","type":"nominal","legend":null},"stroke":{"field":"g","type":"nominal","legend":null}}},
   {"data":{"name":"lga"},"mark":{"type":"text","fontSize":12,"font":"Liberation Sans","align":"left","baseline":"middle","color":"#222222"},"encoding":{"x":{"datum":86},"y":{"field":"ly","type":"quantitative","title":"fEPSP slope (% of baseline)"},"text":{"field":"s"}}},
   {"data":{"name":"hfs"},"mark":{"type":"rule","color":"#111111","strokeWidth":1},"encoding":{"x":{"field":"t","type":"quantitative","title":"Time (min)"},"y":{"datum":28},"y2":{"datum":64}}},
   {"data":{"name":"hfs"},"mark":{"type":"point","shape":"triangle-up","filled":true,"size":12,"color":"#111111","opacity":1},"encoding":{"x":{"field":"t","type":"quantitative","title":"Time (min)"},"y":{"datum":64}}},
   {"data":{"values":[{}]},"mark":{"type":"rect","fill":"white","stroke":"#222222","strokeWidth":0.7},"encoding":{"x":{"datum":6.7},"x2":{"datum":18.3},"y":{"datum":1},"y2":{"datum":25}}},
   {"data":{"values":[{}]},"mark":{"type":"text","fontSize":5.5,"fontWeight":"bold","font":"Liberation Sans","color":"#222222","align":"center","baseline":"middle"},"encoding":{"x":{"datum":12.5},"y":{"datum":13},"text":{"value":"HFS (100Hz)"}}}
  ]},
 {"width":349,"height":93,
  "layer":[
   {"data":{"name":"trc"},"mark":{"type":"line"},"encoding":{"x":{"field":"t","type":"quantitative","scale":{"domain":[51,400],"nice":false,"zero":false},"axis":null},"y":{"field":"u","type":"quantitative","scale":{"domain":[235,328],"reverse":true,"nice":false,"zero":false},"axis":null},"detail":{"field":"c","type":"nominal"},"color":{"field":"k","type":"nominal","scale":{"domain":["g","b","s"],"range":["#9b9b9b","#151515","#444444"]},"legend":null},"strokeWidth":{"field":"k","type":"nominal","scale":{"domain":["g","b","s"],"range":[1.3,1.5,0.9]},"legend":null}}},
   {"data":{"name":"labc"},"mark":{"type":"text","lineBreak":"\n","align":"center","baseline":"top","fontSize":9.5,"lineHeight":10.5,"font":"Lato","color":"#555555"},"encoding":{"x":{"field":"t","type":"quantitative"},"y":{"field":"u","type":"quantitative"},"text":{"field":"s"}}},
   {"data":{"values":[{}]},"mark":{"type":"text","fontSize":17,"font":"Lato","align":"left","baseline":"middle","color":"#222222"},"encoding":{"x":{"datum":5},"y":{"datum":270},"text":{"value":"c)"}}}
  ]},
 {"width":190,"height":162,
  "title":{"text":"3 Months Post-Injury","orient":"left","anchor":"middle","fontSize":15,"font":"Lato","fontWeight":"normal","color":"#555555","offset":12},
  "layer":[
   {"data":{"values":[{}]},"mark":{"type":"rule","strokeDash":[1.5,1.5],"color":"#999999","strokeWidth":0.7},"encoding":{"x":{"datum":0},"x2":{"datum":70},"y":{"datum":100}}},
   {"data":{"name":"tc"},"mark":{"type":"errorbar","ticks":false,"thickness":0.7},"encoding":{"x":{"field":"t","type":"quantitative","title":"Time (min)"},"y":{"field":"v","type":"quantitative","title":"fEPSP slope (% of baseline)"},"yError":{"field":"e"},"color":{"field":"g","type":"nominal","scale":{"domain":["SU","TU","SA","SI","TA","TI"],"range":["#222222","#333333","#f3b0b0","#f03a3a","#a0a0f0","#3a3aff"]},"legend":null}}},
   {"data":{"name":"tc"},"mark":{"type":"point","size":30,"strokeWidth":0.9,"opacity":1},
    "encoding":{
     "x":{"field":"t","type":"quantitative","title":"Time (min)","scale":{"domain":[0,71],"nice":false,"zero":false},"axis":{"values":[0,20,40,60],"labelOverlap":false,"tickSize":1.5,"labelFontSize":6,"labelFontWeight":"bold","labelFont":"Liberation Sans","labelPadding":0,"titleFont":"Liberation Sans","titleFontSize":6,"titleFontWeight":"bold","titlePadding":0,"domainColor":"#333333","tickColor":"#333333","labelColor":"#222222","titleColor":"#222222"}},
     "y":{"field":"v","type":"quantitative","title":"fEPSP slope (% of baseline)","scale":{"domain":[0,500],"nice":false},"axis":{"values":[0,100,200,300,400,500],"labelOverlap":false,"tickSize":2,"labelFontSize":6,"labelFontWeight":"bold","labelFont":"Liberation Sans","labelPadding":1,"titleFont":"Liberation Sans","titleFontSize":6,"titleFontWeight":"bold","titlePadding":3,"domainColor":"#333333","tickColor":"#333333","labelColor":"#222222","titleColor":"#222222"}},
     "shape":{"field":"g","type":"nominal","scale":{"domain":["SU","TU","SA","SI","TA","TI"],"range":["M-1,0H1M0,-1V1","M-1,0H1M0,-1V1M-0.7,-0.7L0.7,0.7M-0.7,0.7L0.7,-0.7","triangle-down","triangle-down","circle","circle"]},"legend":null},
     "fill":{"field":"g","type":"nominal","scale":{"domain":["SU","TU","SA","SI","TA","TI"],"range":["transparent","transparent","transparent","#ee1111","transparent","#1f1fff"]},"legend":null},
     "stroke":{"field":"g","type":"nominal","scale":{"domain":["SU","TU","SA","SI","TA","TI"],"range":["#000000","#000000","#f49a9a","#ee1111","#8c8cee","#1f1fff"]},"legend":null}
    }},
   {"data":{"name":"lgc"},"mark":{"type":"point","size":180,"strokeWidth":2,"opacity":1},"encoding":{"x":{"datum":79.1},"y":{"field":"ly","type":"quantitative","title":"fEPSP slope (% of baseline)"},"shape":{"field":"g","type":"nominal","legend":null},"fill":{"field":"g","type":"nominal","legend":null},"stroke":{"field":"g","type":"nominal","legend":null}}},
   {"data":{"name":"lgc"},"mark":{"type":"text","fontSize":12,"font":"Liberation Sans","align":"left","baseline":"middle","color":"#222222"},"encoding":{"x":{"datum":86},"y":{"field":"ly","type":"quantitative","title":"fEPSP slope (% of baseline)"},"text":{"field":"s"}}},
   {"data":{"name":"hfs"},"mark":{"type":"rule","color":"#111111","strokeWidth":1},"encoding":{"x":{"field":"t","type":"quantitative","title":"Time (min)"},"y":{"datum":28},"y2":{"datum":64}}},
   {"data":{"name":"hfs"},"mark":{"type":"point","shape":"triangle-up","filled":true,"size":12,"color":"#111111","opacity":1},"encoding":{"x":{"field":"t","type":"quantitative","title":"Time (min)"},"y":{"datum":64}}},
   {"data":{"values":[{}]},"mark":{"type":"rect","fill":"white","stroke":"#222222","strokeWidth":0.7},"encoding":{"x":{"datum":7.5},"x2":{"datum":19},"y":{"datum":1},"y2":{"datum":25}}},
   {"data":{"values":[{}]},"mark":{"type":"text","fontSize":5.5,"fontWeight":"bold","font":"Liberation Sans","color":"#222222","align":"center","baseline":"middle"},"encoding":{"x":{"datum":13.25},"y":{"datum":13},"text":{"value":"HFS (100Hz)"}}}
  ]}
],"spacing":5,"bounds":"flush",
"resolve":{"scale":{"color":"independent","fill":"independent","stroke":"independent","shape":"independent","strokeWidth":"independent"},"legend":{"color":"independent","fill":"independent","stroke":"independent","shape":"independent","strokeWidth":"independent"}}},
{"vconcat":[
 {"width":196,"height":23,"data":{"values":[{}]},"mark":{"type":"text","text":""},"encoding":{}},
 {"width":196,"height":196,
  "layer":[
   {"data":{"values":[{}]},"mark":{"type":"rule","strokeDash":[1.2,1.6],"color":"#888888","strokeWidth":0.6},"encoding":{"y":{"datum":100}}},
   {"data":{"name":"bb"},"mark":{"type":"rule","strokeWidth":1.2},"encoding":{"x":{"field":"i","type":"quantitative","title":null},"y":{"field":"v","type":"quantitative","title":"LTP (% baseline)"},"y2":{"field":"hi"},"stroke":{"field":"g","type":"nominal","scale":{"domain":["SU","SA","SI","TU","TA","TI"],"range":["#000000","#f3b3b3","#d9262a","#000000","#a9a9ee","#22227a"]},"legend":null}}},
   {"data":{"name":"bb"},"mark":{"type":"point","shape":"M-1,0H1","size":100,"strokeWidth":1.3,"opacity":1},"encoding":{"x":{"field":"i","type":"quantitative","title":null},"y":{"field":"hi","type":"quantitative","title":"LTP (% baseline)"},"stroke":{"field":"g","type":"nominal","scale":{"domain":["SU","SA","SI","TU","TA","TI"],"range":["#000000","#f3b3b3","#d9262a","#000000","#a9a9ee","#22227a"]},"legend":null}}},
   {"data":{"name":"bb"},"mark":{"type":"bar","size":25.5,"strokeWidth":1},"encoding":{
     "x":{"field":"i","type":"quantitative","title":null,"scale":{"domain":[0.416,6.6],"nice":false,"zero":false},"axis":{"labels":false,"ticks":false,"domainColor":"#333333"}},
     "y":{"field":"v","type":"quantitative","title":"LTP (% baseline)","scale":{"domain":[0,400],"nice":false},"axis":{"values":[0,100,200,300,400],"labelOverlap":false,"tickSize":3,"labelFontSize":6,"labelFontWeight":"bold","labelFont":"Liberation Sans","labelPadding":1,"titleFont":"Liberation Sans","titleFontSize":6.5,"titleFontWeight":"bold","titlePadding":3,"domainColor":"#333333","tickColor":"#333333","labelColor":"#222222","titleColor":"#222222"}},
     "fill":{"field":"g","type":"nominal","scale":{"domain":["SU","SA","SI","TU","TA","TI"],"range":["#000000","#ffffff","#e86a6c","#000000","#ffffff","#5c5ca8"]},"legend":null},
     "stroke":{"field":"g","type":"nominal","scale":{"domain":["SU","SA","SI","TU","TA","TI"],"range":["#000000","#f3b3b3","#d9262a","#000000","#a9a9ee","#22227a"]},"legend":null}}},
   {"data":{"name":"bb"},"transform":[{"filter":"datum.g=='SI'"}],"mark":{"type":"bar","size":25.5,"strokeWidth":1,"stroke":"#d9262a","fill":{"gradient":"linear","x1":0,"y1":0,"x2":0.193,"y2":1.137,"stops":[{"offset":0,"color":"#fdd"},{"offset":0.0125,"color":"#d22"},{"offset":0.025,"color":"#fdd"},{"offset":0.0375,"color":"#d22"},{"offset":0.05,"color":"#fdd"},{"offset":0.0625,"color":"#d22"},{"offset":0.075,"color":"#fdd"},{"offset":0.0875,"color":"#d22"},{"offset":0.1,"color":"#fdd"},{"offset":0.1125,"color":"#d22"},{"offset":0.125,"color":"#fdd"},{"offset":0.1375,"color":"#d22"},{"offset":0.15,"color":"#fdd"},{"offset":0.1625,"color":"#d22"},{"offset":0.175,"color":"#fdd"},{"offset":0.1875,"color":"#d22"},{"offset":0.2,"color":"#fdd"},{"offset":0.2125,"color":"#d22"},{"offset":0.225,"color":"#fdd"},{"offset":0.2375,"color":"#d22"},{"offset":0.25,"color":"#fdd"},{"offset":0.2625,"color":"#d22"},{"offset":0.275,"color":"#fdd"},{"offset":0.2875,"color":"#d22"},{"offset":0.3,"color":"#fdd"},{"offset":0.3125,"color":"#d22"},{"offset":0.325,"color":"#fdd"},{"offset":0.3375,"color":"#d22"},{"offset":0.35,"color":"#fdd"},{"offset":0.3625,"color":"#d22"},{"offset":0.375,"color":"#fdd"},{"offset":0.3875,"color":"#d22"},{"offset":0.4,"color":"#fdd"},{"offset":0.4125,"color":"#d22"},{"offset":0.425,"color":"#fdd"},{"offset":0.4375,"color":"#d22"},{"offset":0.45,"color":"#fdd"},{"offset":0.4625,"color":"#d22"},{"offset":0.475,"color":"#fdd"},{"offset":0.4875,"color":"#d22"},{"offset":0.5,"color":"#fdd"},{"offset":0.5125,"color":"#d22"},{"offset":0.525,"color":"#fdd"},{"offset":0.5375,"color":"#d22"},{"offset":0.55,"color":"#fdd"},{"offset":0.5625,"color":"#d22"},{"offset":0.575,"color":"#fdd"},{"offset":0.5875,"color":"#d22"},{"offset":0.6,"color":"#fdd"},{"offset":0.6125,"color":"#d22"},{"offset":0.625,"color":"#fdd"},{"offset":0.6375,"color":"#d22"},{"offset":0.65,"color":"#fdd"},{"offset":0.6625,"color":"#d22"},{"offset":0.675,"color":"#fdd"},{"offset":0.6875,"color":"#d22"},{"offset":0.7,"color":"#fdd"},{"offset":0.7125,"color":"#d22"},{"offset":0.725,"color":"#fdd"},{"offset":0.7375,"color":"#d22"},{"offset":0.75,"color":"#fdd"},{"offset":0.7625,"color":"#d22"},{"offset":0.775,"color":"#fdd"},{"offset":0.7875,"color":"#d22"},{"offset":0.8,"color":"#fdd"},{"offset":0.8125,"color":"#d22"},{"offset":0.825,"color":"#fdd"},{"offset":0.8375,"color":"#d22"},{"offset":0.85,"color":"#fdd"},{"offset":0.8625,"color":"#d22"},{"offset":0.875,"color":"#fdd"},{"offset":0.8875,"color":"#d22"},{"offset":0.9,"color":"#fdd"},{"offset":0.9125,"color":"#d22"},{"offset":0.925,"color":"#fdd"},{"offset":0.9375,"color":"#d22"},{"offset":0.95,"color":"#fdd"},{"offset":0.9625,"color":"#d22"},{"offset":0.975,"color":"#fdd"},{"offset":0.9875,"color":"#d22"},{"offset":1,"color":"#fdd"}]}},"encoding":{"x":{"field":"i","type":"quantitative","title":null},"y":{"field":"v","type":"quantitative","title":"LTP (% baseline)"}}},
   {"data":{"name":"bb"},"transform":[{"filter":"datum.g=='TI'"}],"mark":{"type":"bar","size":25.5,"strokeWidth":1,"stroke":"#22227a","fill":{"gradient":"linear","x1":0,"y1":0,"x2":0.438,"y2":1.204,"stops":[{"offset":0,"color":"#dde"},{"offset":0.025,"color":"#226"},{"offset":0.05,"color":"#dde"},{"offset":0.075,"color":"#226"},{"offset":0.1,"color":"#dde"},{"offset":0.125,"color":"#226"},{"offset":0.15,"color":"#dde"},{"offset":0.175,"color":"#226"},{"offset":0.2,"color":"#dde"},{"offset":0.225,"color":"#226"},{"offset":0.25,"color":"#dde"},{"offset":0.275,"color":"#226"},{"offset":0.3,"color":"#dde"},{"offset":0.325,"color":"#226"},{"offset":0.35,"color":"#dde"},{"offset":0.375,"color":"#226"},{"offset":0.4,"color":"#dde"},{"offset":0.425,"color":"#226"},{"offset":0.45,"color":"#dde"},{"offset":0.475,"color":"#226"},{"offset":0.5,"color":"#dde"},{"offset":0.525,"color":"#226"},{"offset":0.55,"color":"#dde"},{"offset":0.575,"color":"#226"},{"offset":0.6,"color":"#dde"},{"offset":0.625,"color":"#226"},{"offset":0.65,"color":"#dde"},{"offset":0.675,"color":"#226"},{"offset":0.7,"color":"#dde"},{"offset":0.725,"color":"#226"},{"offset":0.75,"color":"#dde"},{"offset":0.775,"color":"#226"},{"offset":0.8,"color":"#dde"},{"offset":0.825,"color":"#226"},{"offset":0.85,"color":"#dde"},{"offset":0.875,"color":"#226"},{"offset":0.9,"color":"#dde"},{"offset":0.925,"color":"#226"},{"offset":0.95,"color":"#dde"},{"offset":0.975,"color":"#226"},{"offset":1,"color":"#dde"}]}},"encoding":{"x":{"field":"i","type":"quantitative","title":null},"y":{"field":"v","type":"quantitative","title":"LTP (% baseline)"}}},
   {"data":{"name":"sb"},"mark":{"type":"rule","color":"#333333","strokeWidth":1},"encoding":{"x":{"field":"a","type":"quantitative","title":null},"x2":{"field":"b"},"y":{"field":"y","type":"quantitative","title":"LTP (% baseline)"}}},
   {"data":{"name":"sb"},"mark":{"type":"point","shape":"M0,-1V1","size":22,"strokeWidth":1,"color":"#333333","opacity":1},"encoding":{"x":{"field":"a","type":"quantitative","title":null},"y":{"field":"y","type":"quantitative","title":"LTP (% baseline)"}}},
   {"data":{"name":"sb"},"mark":{"type":"point","shape":"M0,-1V1","size":22,"strokeWidth":1,"color":"#333333","opacity":1},"encoding":{"x":{"field":"b","type":"quantitative","title":null},"y":{"field":"y","type":"quantitative","title":"LTP (% baseline)"}}},
   {"data":{"name":"sb"},"mark":{"type":"text","text":"*","fontSize":9,"fontWeight":"bold","font":"Liberation Sans","baseline":"alphabetic","dy":1.5,"color":"#222222"},"encoding":{"x":{"field":"m","type":"quantitative","title":null},"y":{"field":"y","type":"quantitative","title":"LTP (% baseline)"}}},
   {"data":{"name":"ub"},"mark":{"type":"rule","color":"#333333","strokeWidth":1},"encoding":{"x":{"field":"a","type":"quantitative","title":null},"x2":{"field":"b"},"y":{"field":"y","type":"quantitative","title":"LTP (% baseline)"}}},
   {"data":{"name":"ub"},"mark":{"type":"point","shape":"M0,-1V1","size":22,"strokeWidth":1,"color":"#333333","opacity":1},"encoding":{"x":{"field":"a","type":"quantitative","title":null},"y":{"field":"y","type":"quantitative","title":"LTP (% baseline)"}}},
   {"data":{"name":"ub"},"mark":{"type":"point","shape":"M0,-1V1","size":22,"strokeWidth":1,"color":"#333333","opacity":1},"encoding":{"x":{"field":"b","type":"quantitative","title":null},"y":{"field":"y","type":"quantitative","title":"LTP (% baseline)"}}},
   {"data":{"name":"ub"},"mark":{"type":"text","fontSize":6,"fontWeight":"bold","font":"Liberation Sans","baseline":"middle","color":"#222222"},"encoding":{"x":{"field":"m","type":"quantitative","title":null},"y":{"field":"ly","type":"quantitative","title":"LTP (% baseline)"},"text":{"field":"s"}}},
   {"data":{"name":"ib"},"mark":{"type":"text","fontSize":6,"fontWeight":"bold","font":"Liberation Sans","baseline":"middle","lineBreak":"\n","lineHeight":6.5,"color":"#222222"},"encoding":{"x":{"field":"i","type":"quantitative","title":null},"y":{"field":"y","type":"quantitative","title":"LTP (% baseline)"},"text":{"field":"s"}}},
   {"data":{"values":[{}]},"mark":{"type":"text","fontSize":16,"font":"Lato","align":"left","baseline":"middle","color":"#222222"},"encoding":{"x":{"datum":-1.04},"y":{"datum":425},"text":{"value":"b)"}}}
  ]},
 {"width":196,"height":59,"data":{"values":[{}]},"mark":{"type":"text","text":""},"encoding":{}},
 {"width":200,"height":197,
  "layer":[
   {"data":{"values":[{}]},"mark":{"type":"rule","strokeDash":[1.2,1.6],"color":"#888888","strokeWidth":0.6},"encoding":{"y":{"datum":100}}},
   {"data":{"name":"bd"},"mark":{"type":"rule","strokeWidth":1.2},"encoding":{"x":{"field":"i","type":"quantitative","title":null},"y":{"field":"v","type":"quantitative","title":"LTP (% baseline)"},"y2":{"field":"hi"},"stroke":{"field":"g","type":"nominal","scale":{"domain":["SU","SA","SI","TU","TA","TI"],"range":["#000000","#f3b3b3","#d9262a","#000000","#a9a9ee","#22227a"]},"legend":null}}},
   {"data":{"name":"bd"},"mark":{"type":"point","shape":"M-1,0H1","size":100,"strokeWidth":1.3,"opacity":1},"encoding":{"x":{"field":"i","type":"quantitative","title":null},"y":{"field":"hi","type":"quantitative","title":"LTP (% baseline)"},"stroke":{"field":"g","type":"nominal","scale":{"domain":["SU","SA","SI","TU","TA","TI"],"range":["#000000","#f3b3b3","#d9262a","#000000","#a9a9ee","#22227a"]},"legend":null}}},
   {"data":{"name":"bd"},"mark":{"type":"bar","size":26.5,"strokeWidth":1},"encoding":{
     "x":{"field":"i","type":"quantitative","title":null,"scale":{"domain":[0.436,6.53],"nice":false,"zero":false},"axis":{"labels":false,"ticks":false,"domainColor":"#333333"}},
     "y":{"field":"v","type":"quantitative","title":"LTP (% baseline)","scale":{"domain":[0,500],"nice":false},"axis":{"values":[0,100,200,300,400,500],"labelOverlap":false,"tickSize":3,"labelFontSize":6,"labelFontWeight":"bold","labelFont":"Liberation Sans","labelPadding":1,"titleFont":"Liberation Sans","titleFontSize":6.5,"titleFontWeight":"bold","titlePadding":3,"domainColor":"#333333","tickColor":"#333333","labelColor":"#222222","titleColor":"#222222"}},
     "fill":{"field":"g","type":"nominal","scale":{"domain":["SU","SA","SI","TU","TA","TI"],"range":["#000000","#ffffff","#e86a6c","#000000","#ffffff","#5c5ca8"]},"legend":null},
     "stroke":{"field":"g","type":"nominal","scale":{"domain":["SU","SA","SI","TU","TA","TI"],"range":["#000000","#f3b3b3","#d9262a","#000000","#a9a9ee","#22227a"]},"legend":null}}},
   {"data":{"name":"bd"},"transform":[{"filter":"datum.g=='SI'"}],"mark":{"type":"bar","size":26.5,"strokeWidth":1,"stroke":"#d9262a","fill":{"gradient":"linear","x1":0,"y1":0,"x2":0.203,"y2":1.142,"stops":[{"offset":0,"color":"#fdd"},{"offset":0.0125,"color":"#d22"},{"offset":0.025,"color":"#fdd"},{"offset":0.0375,"color":"#d22"},{"offset":0.05,"color":"#fdd"},{"offset":0.0625,"color":"#d22"},{"offset":0.075,"color":"#fdd"},{"offset":0.0875,"color":"#d22"},{"offset":0.1,"color":"#fdd"},{"offset":0.1125,"color":"#d22"},{"offset":0.125,"color":"#fdd"},{"offset":0.1375,"color":"#d22"},{"offset":0.15,"color":"#fdd"},{"offset":0.1625,"color":"#d22"},{"offset":0.175,"color":"#fdd"},{"offset":0.1875,"color":"#d22"},{"offset":0.2,"color":"#fdd"},{"offset":0.2125,"color":"#d22"},{"offset":0.225,"color":"#fdd"},{"offset":0.2375,"color":"#d22"},{"offset":0.25,"color":"#fdd"},{"offset":0.2625,"color":"#d22"},{"offset":0.275,"color":"#fdd"},{"offset":0.2875,"color":"#d22"},{"offset":0.3,"color":"#fdd"},{"offset":0.3125,"color":"#d22"},{"offset":0.325,"color":"#fdd"},{"offset":0.3375,"color":"#d22"},{"offset":0.35,"color":"#fdd"},{"offset":0.3625,"color":"#d22"},{"offset":0.375,"color":"#fdd"},{"offset":0.3875,"color":"#d22"},{"offset":0.4,"color":"#fdd"},{"offset":0.4125,"color":"#d22"},{"offset":0.425,"color":"#fdd"},{"offset":0.4375,"color":"#d22"},{"offset":0.45,"color":"#fdd"},{"offset":0.4625,"color":"#d22"},{"offset":0.475,"color":"#fdd"},{"offset":0.4875,"color":"#d22"},{"offset":0.5,"color":"#fdd"},{"offset":0.5125,"color":"#d22"},{"offset":0.525,"color":"#fdd"},{"offset":0.5375,"color":"#d22"},{"offset":0.55,"color":"#fdd"},{"offset":0.5625,"color":"#d22"},{"offset":0.575,"color":"#fdd"},{"offset":0.5875,"color":"#d22"},{"offset":0.6,"color":"#fdd"},{"offset":0.6125,"color":"#d22"},{"offset":0.625,"color":"#fdd"},{"offset":0.6375,"color":"#d22"},{"offset":0.65,"color":"#fdd"},{"offset":0.6625,"color":"#d22"},{"offset":0.675,"color":"#fdd"},{"offset":0.6875,"color":"#d22"},{"offset":0.7,"color":"#fdd"},{"offset":0.7125,"color":"#d22"},{"offset":0.725,"color":"#fdd"},{"offset":0.7375,"color":"#d22"},{"offset":0.75,"color":"#fdd"},{"offset":0.7625,"color":"#d22"},{"offset":0.775,"color":"#fdd"},{"offset":0.7875,"color":"#d22"},{"offset":0.8,"color":"#fdd"},{"offset":0.8125,"color":"#d22"},{"offset":0.825,"color":"#fdd"},{"offset":0.8375,"color":"#d22"},{"offset":0.85,"color":"#fdd"},{"offset":0.8625,"color":"#d22"},{"offset":0.875,"color":"#fdd"},{"offset":0.8875,"color":"#d22"},{"offset":0.9,"color":"#fdd"},{"offset":0.9125,"color":"#d22"},{"offset":0.925,"color":"#fdd"},{"offset":0.9375,"color":"#d22"},{"offset":0.95,"color":"#fdd"},{"offset":0.9625,"color":"#d22"},{"offset":0.975,"color":"#fdd"},{"offset":0.9875,"color":"#d22"},{"offset":1,"color":"#fdd"}]}},"encoding":{"x":{"field":"i","type":"quantitative","title":null},"y":{"field":"v","type":"quantitative","title":"LTP (% baseline)"}}},
   {"data":{"name":"bd"},"transform":[{"filter":"datum.g=='TI'"}],"mark":{"type":"bar","size":26.5,"strokeWidth":1,"stroke":"#22227a","fill":{"gradient":"linear","x1":0,"y1":0,"x2":0.461,"y2":1.206,"stops":[{"offset":0,"color":"#dde"},{"offset":0.025,"color":"#226"},{"offset":0.05,"color":"#dde"},{"offset":0.075,"color":"#226"},{"offset":0.1,"color":"#dde"},{"offset":0.125,"color":"#226"},{"offset":0.15,"color":"#dde"},{"offset":0.175,"color":"#226"},{"offset":0.2,"color":"#dde"},{"offset":0.225,"color":"#226"},{"offset":0.25,"color":"#dde"},{"offset":0.275,"color":"#226"},{"offset":0.3,"color":"#dde"},{"offset":0.325,"color":"#226"},{"offset":0.35,"color":"#dde"},{"offset":0.375,"color":"#226"},{"offset":0.4,"color":"#dde"},{"offset":0.425,"color":"#226"},{"offset":0.45,"color":"#dde"},{"offset":0.475,"color":"#226"},{"offset":0.5,"color":"#dde"},{"offset":0.525,"color":"#226"},{"offset":0.55,"color":"#dde"},{"offset":0.575,"color":"#226"},{"offset":0.6,"color":"#dde"},{"offset":0.625,"color":"#226"},{"offset":0.65,"color":"#dde"},{"offset":0.675,"color":"#226"},{"offset":0.7,"color":"#dde"},{"offset":0.725,"color":"#226"},{"offset":0.75,"color":"#dde"},{"offset":0.775,"color":"#226"},{"offset":0.8,"color":"#dde"},{"offset":0.825,"color":"#226"},{"offset":0.85,"color":"#dde"},{"offset":0.875,"color":"#226"},{"offset":0.9,"color":"#dde"},{"offset":0.925,"color":"#226"},{"offset":0.95,"color":"#dde"},{"offset":0.975,"color":"#226"},{"offset":1,"color":"#dde"}]}},"encoding":{"x":{"field":"i","type":"quantitative","title":null},"y":{"field":"v","type":"quantitative","title":"LTP (% baseline)"}}},
   {"data":{"name":"sd"},"mark":{"type":"rule","color":"#333333","strokeWidth":1},"encoding":{"x":{"field":"a","type":"quantitative","title":null},"x2":{"field":"b"},"y":{"field":"y","type":"quantitative","title":"LTP (% baseline)"}}},
   {"data":{"name":"sd"},"mark":{"type":"point","shape":"M0,-1V1","size":22,"strokeWidth":1,"color":"#333333","opacity":1},"encoding":{"x":{"field":"a","type":"quantitative","title":null},"y":{"field":"y","type":"quantitative","title":"LTP (% baseline)"}}},
   {"data":{"name":"sd"},"mark":{"type":"point","shape":"M0,-1V1","size":22,"strokeWidth":1,"color":"#333333","opacity":1},"encoding":{"x":{"field":"b","type":"quantitative","title":null},"y":{"field":"y","type":"quantitative","title":"LTP (% baseline)"}}},
   {"data":{"name":"sd"},"mark":{"type":"text","text":"*","fontSize":9,"fontWeight":"bold","font":"Liberation Sans","baseline":"alphabetic","dy":1.5,"color":"#222222"},"encoding":{"x":{"field":"m","type":"quantitative","title":null},"y":{"field":"y","type":"quantitative","title":"LTP (% baseline)"}}},
   {"data":{"name":"ud"},"mark":{"type":"rule","color":"#333333","strokeWidth":1},"encoding":{"x":{"field":"a","type":"quantitative","title":null},"x2":{"field":"b"},"y":{"field":"y","type":"quantitative","title":"LTP (% baseline)"}}},
   {"data":{"name":"ud"},"mark":{"type":"point","shape":"M0,-1V1","size":22,"strokeWidth":1,"color":"#333333","opacity":1},"encoding":{"x":{"field":"a","type":"quantitative","title":null},"y":{"field":"y","type":"quantitative","title":"LTP (% baseline)"}}},
   {"data":{"name":"ud"},"mark":{"type":"point","shape":"M0,-1V1","size":22,"strokeWidth":1,"color":"#333333","opacity":1},"encoding":{"x":{"field":"b","type":"quantitative","title":null},"y":{"field":"y","type":"quantitative","title":"LTP (% baseline)"}}},
   {"data":{"name":"ud"},"mark":{"type":"text","fontSize":6,"fontWeight":"bold","font":"Liberation Sans","baseline":"middle","color":"#222222"},"encoding":{"x":{"field":"m","type":"quantitative","title":null},"y":{"field":"ly","type":"quantitative","title":"LTP (% baseline)"},"text":{"field":"s"}}},
   {"data":{"name":"id"},"mark":{"type":"text","fontSize":6,"fontWeight":"bold","font":"Liberation Sans","baseline":"middle","lineBreak":"\n","lineHeight":6.5,"color":"#222222"},"encoding":{"x":{"field":"i","type":"quantitative","title":null},"y":{"field":"y","type":"quantitative","title":"LTP (% baseline)"},"text":{"field":"s"}}},
   {"data":{"values":[{}]},"mark":{"type":"text","fontSize":16,"font":"Lato","align":"left","baseline":"middle","color":"#222222"},"encoding":{"x":{"datum":-0.95},"y":{"datum":516},"text":{"value":"d)"}}}
  ]}
],"spacing":0,"bounds":"flush"}
]
}
